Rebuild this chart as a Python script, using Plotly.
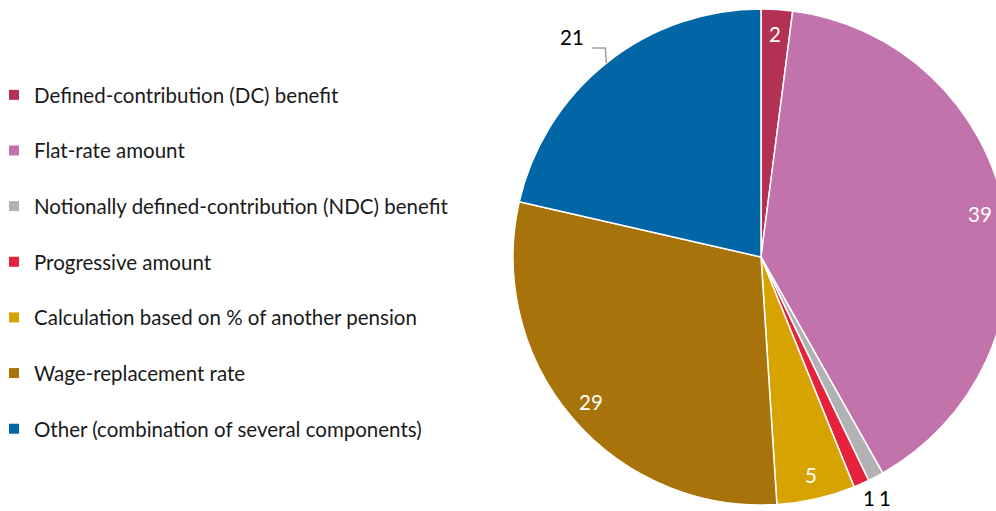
import math
import plotly.graph_objects as go

# Pension calculation components (share of schemes, %)
categories = [
    "Defined-contribution (DC) benefit",
    "Flat-rate amount",
    "Notionally defined-contribution (NDC) benefit",
    "Progressive amount",
    "Calculation based on % of another pension",
    "Wage-replacement rate",
    "Other (combination of several components)",
]
values = [2, 39, 1, 1, 5, 29, 21]
colors = ["#B33153", "#C373AB", "#B0B2B3", "#E6213C", "#D7A300", "#A8730A", "#0066A6"]
label_inside = [True, True, False, False, True, True, False]

FONT = "Lato"
FSIZE = 20.5
W, H = 1010, 511

# pie geometry in pixels
CX, CY, R = 761, 257, 248


def px(x):
    return x / W


def py(y):
    return 1 - y / H


fig = go.Figure()

fig.add_trace(go.Pie(
    labels=categories,
    values=values,
    sort=False,
    direction="clockwise",
    rotation=0,
    marker=dict(colors=colors, line=dict(color="white", width=1.5)),
    textinfo="none",
    showlegend=False,
    domain=dict(x=[px(CX - R), px(CX + R)], y=[py(CY + R), py(CY - R)]),
    hoverinfo="label+value",
))

# Value labels placed along each slice's mid-angle
total = sum(values)
cum = 0
for i, v in enumerate(values):
    mid = (cum + v / 2) / total * 2 * math.pi
    cum += v
    s, c = math.sin(mid), math.cos(mid)
    if label_inside[i]:
        x, y = CX + 0.9 * R * s, CY - 0.9 * R * c
        fig.add_annotation(x=px(x), y=py(y), xref="paper", yref="paper",
                           xanchor="center", yanchor="middle",
                           text=str(v), showarrow=False,
                           font=dict(family=FONT, size=FSIZE, color="white"))
    elif s > 0:
        # small slices at the bottom: labels on a common line under the pie
        x = CX + 1.1 * R * s - 2
        fig.add_annotation(x=px(x), y=py(498), xref="paper", yref="paper",
                           xanchor="center", yanchor="middle",
                           text=str(v), showarrow=False,
                           font=dict(family=FONT, size=FSIZE, color="black"))
    else:
        # label set off to the upper left with an elbow leader line
        ex, ey = CX + R * s, CY - R * c
        kx, ky = ex - 1, ey - 15
        hx = kx - 13
        fig.add_shape(type="path", xref="paper", yref="paper",
                      path=f"M {px(ex)} {py(ey)} L {px(kx)} {py(ky)} L {px(hx)} {py(ky)}",
                      line=dict(color="#A0A0A0", width=1.5))
        fig.add_annotation(x=px(hx - 6), y=py(ky - 11), xref="paper", yref="paper",
                           xanchor="right", yanchor="middle",
                           text=str(v), showarrow=False,
                           font=dict(family=FONT, size=FSIZE, color="black"))

# Legend entries, one group each so the entries can be spaced apart
for name, col in zip(categories, colors):
    fig.add_trace(go.Scatter(
        x=[None], y=[None], mode="markers", name=name,
        legendgroup=name,
        marker=dict(symbol="square", size=10, color=col),
    ))

fig.update_layout(
    width=W, height=H,
    margin=dict(l=0, r=0, t=0, b=0, autoexpand=False),
    paper_bgcolor="white",
    plot_bgcolor="white",
    font=dict(family=FONT, size=FSIZE, color="#1a1a1a"),
    xaxis=dict(visible=False),
    yaxis=dict(visible=False),
    legend=dict(
        x=-6 / W, xanchor="left",
        y=py(75), yanchor="top",
        tracegroupgap=26,
        font=dict(family=FONT, size=FSIZE, color="#1a1a1a"),
        bgcolor="rgba(0,0,0,0)",
    ),
)

fig.write_html(
    "out.html",
    post_script="document.documentElement.style.overflow='hidden';document.body.style.overflow='hidden';",
)
